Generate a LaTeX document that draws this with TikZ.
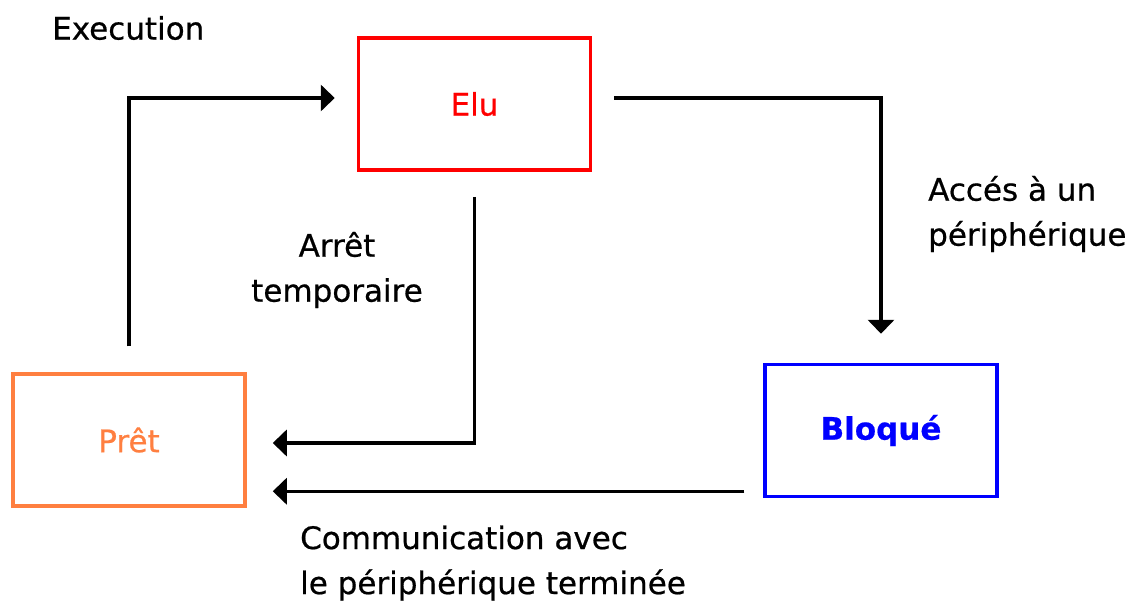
\documentclass[tikz,border=0pt]{standalone}
\usepackage{fontspec}
\setmainfont{DejaVu Sans}[FakeBold=0.6]
\usepackage{xcolor}
\usepackage{tikz}
\usetikzlibrary{positioning, arrows.meta, calc}
\definecolor{elured}{HTML}{FF0000}
\definecolor{pretorange}{HTML}{FF7F40}
\definecolor{bloqueblue}{HTML}{0000FF}

\begin{document}
\begin{tikzpicture}[x=1pt, y=-1pt,
    statebox/.style={draw, line width=3.5pt, minimum width=232pt, minimum height=132pt,
                     font=\fontsize{31}{36}\selectfont},
    flow/.style={line width=3.5pt, -{Triangle[length=14pt, width=26pt]}},
    lbl/.style={font=\fontsize{31}{45}\selectfont, inner sep=0pt}]
  \useasboundingbox (0,0) rectangle (1136,603);
  % the three states
  \node[statebox, draw=elured, text=elured] (elu) at (474.5,104) {Elu};
  \node[statebox, draw=pretorange, text=pretorange] (pret) at (129,440) {Prêt};
  \node[statebox, draw=bloqueblue, text=bloqueblue] (bloque) at (881,430.5) {\textbf{Bloqué}};
  % transitions
  \draw[flow] ([yshift=26pt]pret.north) |- ([shift={(-22pt,6pt)}]elu.west);
  \draw[flow] ([shift={(22pt,6pt)}]elu.east) -| ([yshift=29pt]bloque.north);
  \draw[flow] ([yshift=-25pt]elu.south) |- ([shift={(26pt,-3pt)}]pret.east);
  \draw[flow] ([shift={(-19pt,7pt)}]bloque.south west) coordinate (commstart)
    -- ([xshift=26pt]pret.east |- commstart);
  % labels
  \node[lbl, anchor=west] (exec) at (52,28) {Execution};
  \node[lbl, align=center] (arret) at (337,270) {Arrêt\\temporaire};
  \node[lbl, align=left, anchor=west] (acces) at (928,214) {Accés à un\\périphérique};
  \node[lbl, align=left, anchor=west] (comm) at (300,563) {Communication avec\\le périphérique terminée};
\end{tikzpicture}
\end{document}
